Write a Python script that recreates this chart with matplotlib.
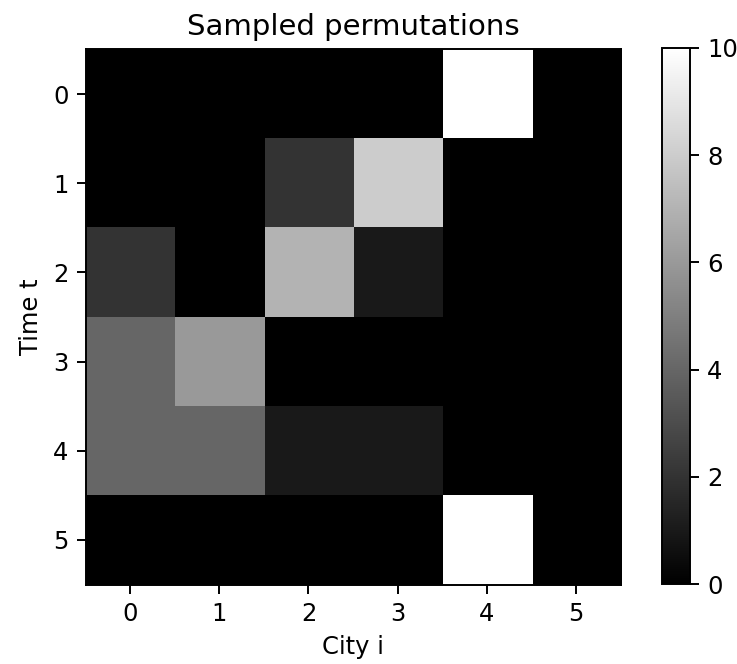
import matplotlib
matplotlib.use("Agg")
import matplotlib.pyplot as plt
import numpy as np

# counts of sampled permutations: rows = time t, cols = city i
row0 = [0, 0, 0, 0, 10, 0]
row1 = [0, 0, 2, 8, 0, 0]
row2 = [2, 0, 7, 1, 0, 0]
row3 = [4, 6, 0, 0, 0, 0]
row4 = [4, 4, 1, 1, 0, 0]
row5 = [0, 0, 0, 0, 10, 0]
counts = np.array([row0, row1, row2, row3, row4, row5])

W, H = 737, 664
DPI = 175
fig = plt.figure(figsize=(W / DPI, H / DPI), dpi=DPI)

ax = fig.add_axes([85.5 / W, 1 - 584.6 / H, 535.1 / W, 535.2 / H])
im = ax.imshow(counts, cmap="gray", vmin=0, vmax=10)
ax.set_title("Sampled permutations")
ax.set_xlabel("City i")
ax.set_ylabel("Time t")
ax.set_xticks(range(6))
ax.set_yticks(range(6))

cax = fig.add_axes([662 / W, 1 - 584 / H, 28 / W, 536 / H])
fig.colorbar(im, cax=cax)

fig.savefig("out.png", dpi=DPI)
